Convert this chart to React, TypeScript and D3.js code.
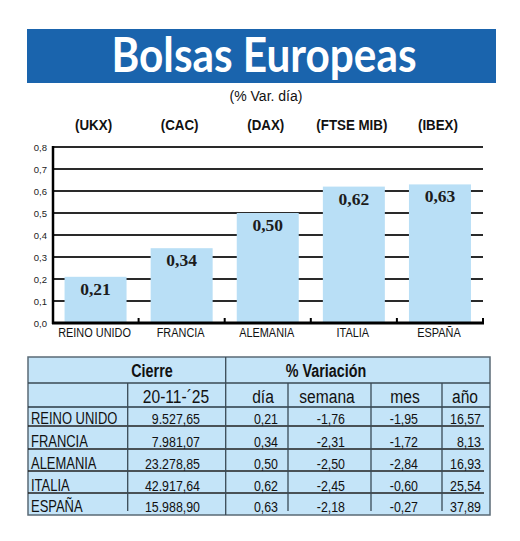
import React from "react";
import * as d3 from "d3";

const countries = ["REINO UNIDO", "FRANCIA", "ALEMANIA", "ITALIA", "ESPAÑA"];
const tickers = ["(UKX)", "(CAC)", "(DAX)", "(FTSE MIB)", "(IBEX)"];
const dayVar = [0.21, 0.34, 0.5, 0.62, 0.63];
const closes = [9527.65, 7981.07, 23278.85, 42917.64, 15988.9];
const weekVar = [-1.76, -2.31, -2.5, -2.45, -2.18];
const monthVar = [-1.95, -1.72, -2.84, -0.6, -0.27];
const yearVar = [16.57, 8.13, 16.93, 25.54, 37.89];
const yTicks = [0, 0.1, 0.2, 0.3, 0.4, 0.5, 0.6, 0.7, 0.8];
const title = "Bolsas Europeas";
const subtitle = "(% Var. día)";
const closeDate = "20-11-´25";
const headerCols = ["día", "semana", "mes", "año"];

const es = d3.formatLocale({
  decimal: ",",
  thousands: ".",
  grouping: [3],
  currency: ["", ""],
  minus: "-",
});
const fmt2 = es.format(",.2f");
const fmt1 = es.format(".1f");

const SANS = "'Liberation Sans', Arial, sans-serif";

type NTProps = {
  x: number;
  y: number;
  sx?: number;
  size: number;
  anchor?: "start" | "middle" | "end";
  bold?: boolean;
  children: React.ReactNode;
};

function NText({ x, y, sx = 0.82, size, anchor = "start", bold = false, children }: NTProps) {
  return (
    <text
      transform={`translate(${x},${y}) scale(${sx},1)`}
      textAnchor={anchor}
      fill="#111"
      fontFamily={SANS}
      fontWeight={bold ? "bold" : "normal"}
      fontSize={size}
    >
      {children}
    </text>
  );
}

export default function App() {
  const x = d3
    .scaleBand<string>()
    .domain(countries)
    .range([52.5, 483])
    .paddingInner(0.28)
    .paddingOuter(0.14);
  const y = d3.scaleLinear().domain([0, 0.8]).range([323, 147]);
  const step = x.step();
  const cx = (c: string) => (x(c) as number) + x.bandwidth() / 2;
  const gapMarks = countries.map(
    (c) => (x(c) as number) + x.bandwidth() + (step - x.bandwidth()) / 2
  );

  // table geometry
  const tL = 28, tR = 490, tT = 357, tB = 515;
  const row1B = 383, row2B = 407;
  const rowLines = [426, 449, 471, 493];
  const rowBase = [424, 446.5, 468.5, 491, 512];
  const vLines = [127.7, 288, 371, 442];
  const headerX = [263, 327, 405, 465];
  const valueRight = [278, 345, 418, 481];
  const series = [dayVar, weekVar, monthVar, yearVar];

  return (
    <svg
      width={520}
      height={541}
      style={{ position: "absolute", left: 0, top: 0, background: "#fff" }}
    >
      {/* Title banner */}
      <rect x={27} y={29} width={469} height={54} fill="#1a64ad" />
      <text
        x={264}
        y={72}
        textAnchor="middle"
        fill="#fff"
        fontFamily="Lato, 'Open Sans', sans-serif"
        fontWeight="bold"
        fontSize={47}
        textLength={305}
        lengthAdjust="spacingAndGlyphs"
      >
        {title}
      </text>
      <text
        x={266}
        y={101}
        textAnchor="middle"
        fill="#111"
        fontFamily={SANS}
        fontSize={14}
      >
        {subtitle}
      </text>

      {/* tickers */}
      {tickers.map((t, i) => (
        <NText key={t} x={cx(countries[i]) - 2} y={130} anchor="middle" bold size={14.5} sx={0.92}>
          {t}
        </NText>
      ))}

      {/* gridlines */}
      {yTicks.slice(1).map((t) => (
        <line
          key={t}
          x1={52.5}
          x2={483}
          y1={y(t)}
          y2={y(t)}
          stroke="#2a2a2a"
          strokeWidth={2}
        />
      ))}
      {/* y tick labels */}
      {yTicks.map((t) => (
        <text
          key={"l" + t}
          x={47}
          y={y(t) + 3.5}
          textAnchor="end"
          fill="#222"
          fontFamily={SANS}
          fontSize={9.5}
        >
          {fmt1(t)}
        </text>
      ))}

      {/* bars */}
      {countries.map((c, i) => (
        <rect
          key={c}
          x={x(c)}
          y={y(dayVar[i])}
          width={x.bandwidth()}
          height={y(0) - y(dayVar[i])}
          fill="#b9dff6"
        />
      ))}
      {countries.map((c, i) => (
        <text
          key={"v" + c}
          x={cx(c)}
          y={y(dayVar[i]) + 18}
          textAnchor="middle"
          fill="#1c1c1c"
          fontFamily="'Liberation Serif', 'DejaVu Serif', serif"
          fontWeight="bold"
          fontSize={17.5}
        >
          {fmt2(dayVar[i])}
        </text>
      ))}

      {/* axes */}
      <line x1={53} x2={53} y1={146} y2={324} stroke="#000" strokeWidth={2.5} />
      <line x1={52} x2={484} y1={323} y2={323} stroke="#000" strokeWidth={3} />
      {gapMarks.map((gx, i) => (
        <line key={"g" + i} x1={gx} x2={gx} y1={323} y2={318} stroke="#000" strokeWidth={2} />
      ))}

      {/* category labels */}
      {countries.map((c) => (
        <NText key={"c" + c} x={cx(c) - 1} y={337} anchor="middle" size={13} sx={0.84}>
          {c}
        </NText>
      ))}

      {/* table */}
      <rect
        x={tL}
        y={tT}
        width={tR - tL}
        height={tB - tT}
        fill="#c4e4f8"
        stroke="#5a6a75"
        strokeWidth={1.5}
      />
      <line x1={tL} x2={tR} y1={row1B} y2={row1B} stroke="#3a4a55" strokeWidth={1.5} />
      <line x1={tL} x2={tR} y1={row2B} y2={row2B} stroke="#2a3a45" strokeWidth={1.5} />
      {rowLines.map((ry) => (
        <line key={"r" + ry} x1={tL} x2={484} y1={ry} y2={ry} stroke="#222" strokeWidth={1.5} />
      ))}
      <line x1={225.7} x2={225.7} y1={tT} y2={tB} stroke="#3a4a55" strokeWidth={1.3} />
      {vLines.map((vx) => (
        <line key={"v" + vx} x1={vx} x2={vx} y1={row1B} y2={511} stroke="#3a4a55" strokeWidth={1.3} />
      ))}
      <NText x={152} y={377} anchor="middle" bold size={17.5}>
        Cierre
      </NText>
      <NText x={326} y={377} anchor="middle" bold size={17.5}>
        % Variación
      </NText>
      <NText x={176} y={403} anchor="middle" size={19}>
        {closeDate}
      </NText>
      {headerCols.map((h, i) => (
        <NText key={h} x={headerX[i]} y={403} anchor="middle" size={19}>
          {h}
        </NText>
      ))}
      {countries.map((c, i) => (
        <g key={"row" + c}>
          <NText x={31} y={rowBase[i]} size={16} sx={0.81}>
            {c}
          </NText>
          <NText x={200} y={rowBase[i]} anchor="end" size={15.5} sx={0.8}>
            {fmt2(closes[i])}
          </NText>
          {series.map((s, j) => (
            <NText key={j} x={valueRight[j]} y={rowBase[i]} anchor="end" size={15.5} sx={0.8}>
              {fmt2(s[i])}
            </NText>
          ))}
        </g>
      ))}
    </svg>
  );
}
